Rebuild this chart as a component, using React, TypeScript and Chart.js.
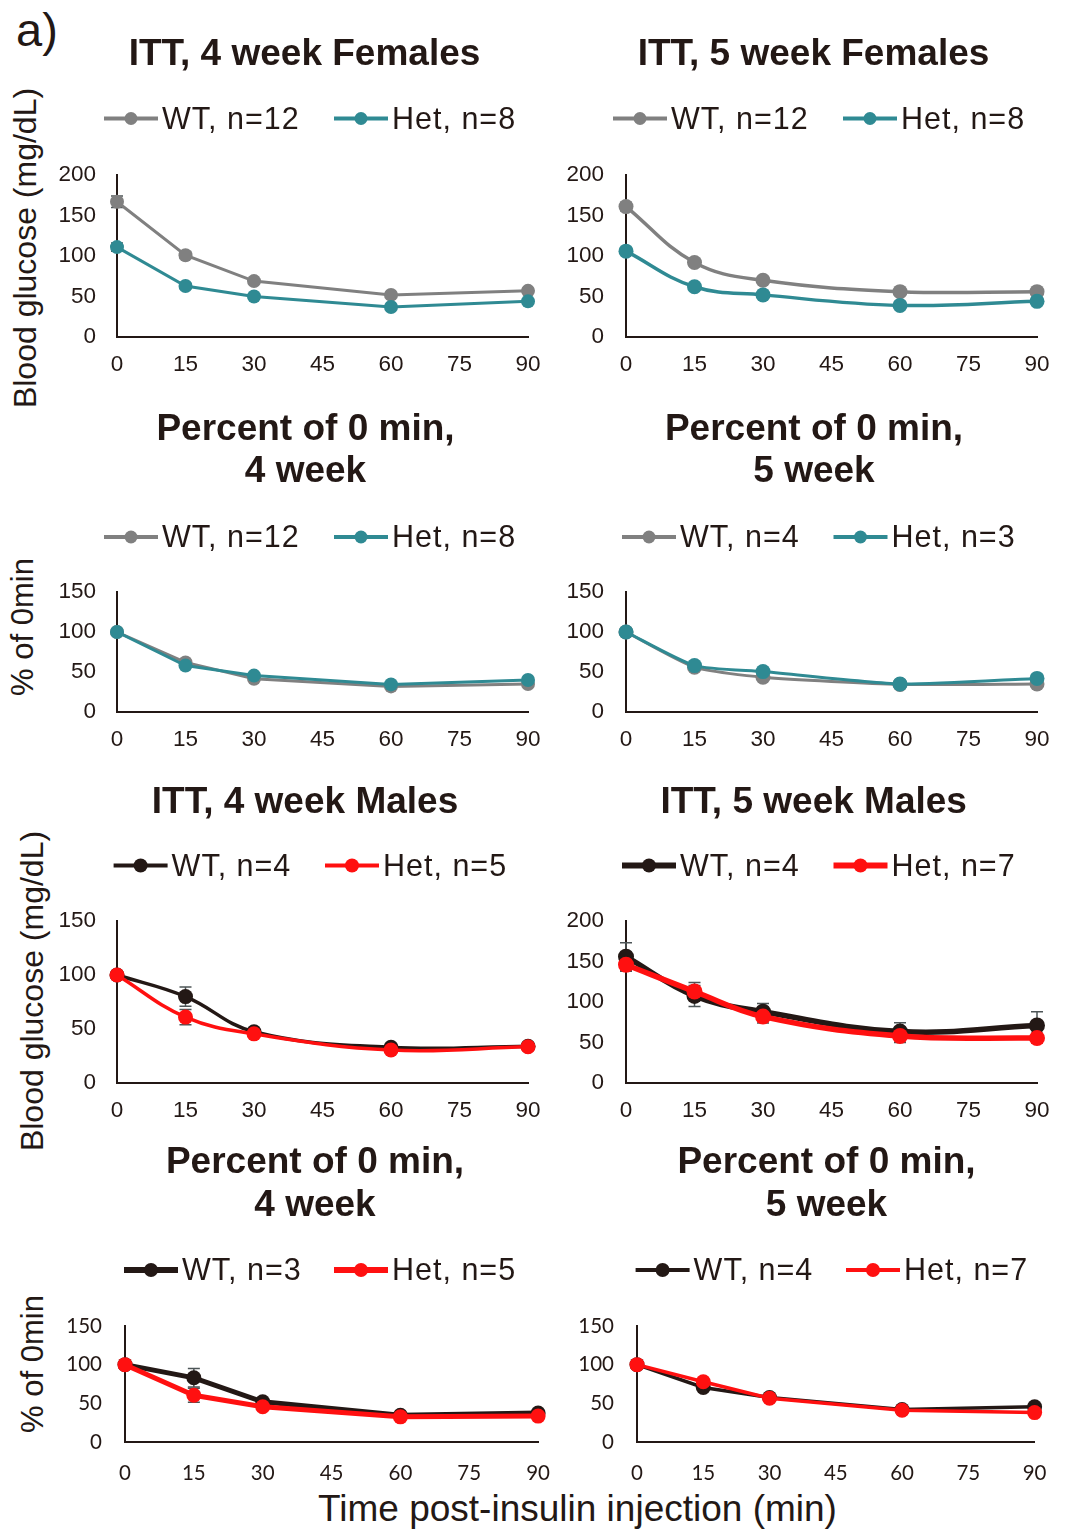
import React, { useEffect, useRef } from 'react';
import { Chart, registerables } from 'chart.js';

Chart.register(...registerables);

// ---- shared style ----
const INK = '#231815';
const SANS = '"Liberation Sans", Arial, Helvetica, sans-serif';
const ALT_SANS = 'Lato, "Liberation Sans", sans-serif';
const GRAY = '#808080';
const TEAL = '#2f8a93';
const BLACK = '#231815';
const RED = '#ff1010';
const ERR_COLOR = '#4d5557';

// ---- data ----
const minutes = [0, 15, 30, 60, 90];
const xTickValues = [0, 15, 30, 45, 60, 75, 90];
const yTicks200 = [0, 50, 100, 150, 200];
const yTicks150 = [0, 50, 100, 150];

// ITT, 4 week Females (mg/dL)
const f4WT = [167, 101, 69, 52, 57];
const f4Het = [111, 63, 50, 37, 44];
const f4WTErr = [7, 4, 3, 3, 3];
const f4HetErr = [5, 3, 3, 2, 3];

// ITT, 5 week Females (mg/dL)
const f5WT = [161, 92, 70, 56, 56];
const f5Het = [106, 62, 52, 39, 44];
const f5WTErr = [5, 4, 3, 3, 3];
const f5HetErr = [4, 3, 3, 2, 3];

// Percent of 0 min, females
const f4PctWT = [100, 62, 41.5, 32, 35];
const f4PctHet = [100, 58, 45.5, 34.5, 40];
const f5PctWT = [100, 56, 43.5, 34.5, 35];
const f5PctHet = [100, 58, 50.5, 35, 42];

// ITT, 4 week Males (mg/dL)
const m4WT = [100, 80, 47.5, 33, 34];
const m4Het = [100, 61, 45.5, 30.5, 33.5];
const m4WTErr = [0, 9, 3, 2, 2];
const m4HetErr = [0, 7, 2, 2, 2];

// ITT, 5 week Males (mg/dL)
const m5WT = [156, 107.5, 88, 63.5, 71];
const m5Het = [146, 113, 82, 58, 55.5];
const m5WTErr = [17, 13, 10, 11, 17];
const m5HetErr = [8, 11, 8, 8, 6];

// Percent of 0 min, males
const m4PctWT = [100, 83, 52, 34.5, 37.5];
const m4PctHet = [100, 60.5, 45.5, 32.5, 33.5];
const m4PctWTErr = [0, 12, 3, 2, 2];
const m4PctHetErr = [0, 9, 2, 2, 2];
const m5PctWT = [100, 70.5, 57.5, 42, 45.5];
const m5PctHet = [100, 78, 56.5, 41, 38];

// ---- panel layout ----
type Rect = { l: number; t: number; r: number; b: number };
type Panel = {
  key: string;
  titles: string[];
  titleX: number;
  titleBaselines: number[];
  legendBaseline: number;
  legendStarts: [number, number];
  legendLine: number;
  legendDot: number;
  labels: [string, string];
  colors: [string, string];
  wt: number[];
  het: number[];
  wtErr?: number[];
  hetErr?: number[];
  yTicks: number[];
  plot: Rect;
  lineWidth: number;
  pointRadius: number;
  tension: number;
  tickFont: { family: string; size: number };
  yPad: number;
  xPad: number;
};

const mainTick = { family: SANS, size: 22.5 };
const altTick = { family: ALT_SANS, size: 20.5 };

const panels: Panel[] = [
  {
    key: 'f4', titles: ['ITT, 4 week Females'], titleX: 304.5, titleBaselines: [65],
    legendBaseline: 128.5, legendStarts: [104, 334], legendLine: 4, legendDot: 6.5,
    labels: ['WT, n=12', 'Het, n=8'], colors: [GRAY, TEAL],
    wt: f4WT, het: f4Het, wtErr: f4WTErr, hetErr: f4HetErr, yTicks: yTicks200,
    plot: { l: 117.4, t: 175, r: 528, b: 337.3 }, lineWidth: 3, pointRadius: 7, tension: 0,
    tickFont: mainTick, yPad: 21, xPad: 14.5,
  },
  {
    key: 'f5', titles: ['ITT, 5 week Females'], titleX: 813.5, titleBaselines: [65],
    legendBaseline: 128.5, legendStarts: [613, 843], legendLine: 4, legendDot: 6.5,
    labels: ['WT, n=12', 'Het, n=8'], colors: [GRAY, TEAL],
    wt: f5WT, het: f5Het, wtErr: f5WTErr, hetErr: f5HetErr, yTicks: yTicks200,
    plot: { l: 626.2, t: 175, r: 1036.5, b: 337.3 }, lineWidth: 3.5, pointRadius: 7.5, tension: 0.4,
    tickFont: mainTick, yPad: 22, xPad: 14.5,
  },
  {
    key: 'f4p', titles: ['Percent of 0 min,', '4 week'], titleX: 305.5, titleBaselines: [440, 481.7],
    legendBaseline: 547, legendStarts: [104, 334], legendLine: 4, legendDot: 6.5,
    labels: ['WT, n=12', 'Het, n=8'], colors: [GRAY, TEAL],
    wt: f4PctWT, het: f4PctHet, yTicks: yTicks150,
    plot: { l: 117.4, t: 591.7, r: 528, b: 711.7 }, lineWidth: 3, pointRadius: 7, tension: 0,
    tickFont: mainTick, yPad: 21, xPad: 14.5,
  },
  {
    key: 'f5p', titles: ['Percent of 0 min,', '5 week'], titleX: 814, titleBaselines: [440, 481.7],
    legendBaseline: 547, legendStarts: [622, 833.5], legendLine: 4, legendDot: 6.5,
    labels: ['WT, n=4', 'Het, n=3'], colors: [GRAY, TEAL],
    wt: f5PctWT, het: f5PctHet, yTicks: yTicks150,
    plot: { l: 626.2, t: 591.7, r: 1036.5, b: 711.7 }, lineWidth: 3, pointRadius: 7.5, tension: 0.2,
    tickFont: mainTick, yPad: 22, xPad: 14.5,
  },
  {
    key: 'm4', titles: ['ITT, 4 week Males'], titleX: 305, titleBaselines: [812.5],
    legendBaseline: 875.5, legendStarts: [113.6, 325], legendLine: 4, legendDot: 7,
    labels: ['WT, n=4', 'Het, n=5'], colors: [BLACK, RED],
    wt: m4WT, het: m4Het, wtErr: m4WTErr, hetErr: m4HetErr, yTicks: yTicks150,
    plot: { l: 117.4, t: 921, r: 528, b: 1083.3 }, lineWidth: 3.5, pointRadius: 7.5, tension: 0.4,
    tickFont: mainTick, yPad: 21, xPad: 14,
  },
  {
    key: 'm5', titles: ['ITT, 5 week Males'], titleX: 813.7, titleBaselines: [812.5],
    legendBaseline: 875.5, legendStarts: [622, 833.5], legendLine: 6, legendDot: 7,
    labels: ['WT, n=4', 'Het, n=7'], colors: [BLACK, RED],
    wt: m5WT, het: m5Het, wtErr: m5WTErr, hetErr: m5HetErr, yTicks: yTicks200,
    plot: { l: 626.2, t: 921, r: 1036.5, b: 1083.3 }, lineWidth: 5.5, pointRadius: 8, tension: 0.4,
    tickFont: mainTick, yPad: 22, xPad: 14,
  },
  {
    key: 'm4p', titles: ['Percent of 0 min,', '4 week'], titleX: 315, titleBaselines: [1173.3, 1215.5],
    legendBaseline: 1280, legendStarts: [124, 334], legendLine: 6, legendDot: 7,
    labels: ['WT, n=3', 'Het, n=5'], colors: [BLACK, RED],
    wt: m4PctWT, het: m4PctHet, wtErr: m4PctWTErr, hetErr: m4PctHetErr, yTicks: yTicks150,
    plot: { l: 125, t: 1325.7, r: 539, b: 1441.7 }, lineWidth: 5, pointRadius: 7.5, tension: 0,
    tickFont: altTick, yPad: 23, xPad: 19,
  },
  {
    key: 'm5p', titles: ['Percent of 0 min,', '5 week'], titleX: 826.5, titleBaselines: [1173.3, 1215.5],
    legendBaseline: 1280, legendStarts: [635.6, 846], legendLine: 4, legendDot: 7,
    labels: ['WT, n=4', 'Het, n=7'], colors: [BLACK, RED],
    wt: m5PctWT, het: m5PctHet, yTicks: yTicks150,
    plot: { l: 636.6, t: 1326, r: 1050, b: 1441.7 }, lineWidth: 3.5, pointRadius: 7.5, tension: 0,
    tickFont: altTick, yPad: 23, xPad: 19.5,
  },
];

const PAGE_W = 1066;
const PAGE_H = 1529;
const Y_AXIS_W = 110;
const X_AXIS_H = 50;
const TITLE_FONT = `bold 37px ${SANS}`;
const LEGEND_FONT = `30.5px ${SANS}`;
const MARKER_LEN = 54;
const TEXT_GAP = 58;

function frameOf(p: Panel) {
  const l = Math.round(p.plot.l);
  const t = Math.round(p.plot.t);
  const r = Math.round(p.plot.r);
  const b = Math.round(p.plot.b);
  const x = l - Y_AXIS_W;
  const y = Math.round(Math.min(...p.titleBaselines) - 45);
  const right = Math.min(r + 30, PAGE_W);
  const bottom = b + X_AXIS_H;
  return { x, y, w: right - x, h: bottom - y, padTop: t - y, padRight: right - r };
}

// Title lines and the line-with-dot key above each plot
function headerPlugin(p: Panel, ox: number, oy: number) {
  return {
    id: 'panelHeader',
    afterDraw(chart: any) {
      const ctx: any = chart.ctx;
      ctx.save();
      ctx.fillStyle = INK;
      ctx.textAlign = 'center';
      ctx.textBaseline = 'alphabetic';
      ctx.font = TITLE_FONT;
      p.titles.forEach((text, i) => {
        ctx.fillText(text, p.titleX - ox, p.titleBaselines[i] - oy);
      });
      ctx.font = LEGEND_FONT;
      ctx.textAlign = 'left';
      if ('letterSpacing' in ctx) ctx.letterSpacing = '1px';
      const datasets = chart.data.datasets;
      p.legendStarts.forEach((sx, i) => {
        const ds = datasets[i];
        const x = sx - ox;
        const base = p.legendBaseline - oy;
        const y = base - 10;
        ctx.strokeStyle = ds.borderColor;
        ctx.lineWidth = p.legendLine;
        ctx.lineCap = 'butt';
        ctx.beginPath();
        ctx.moveTo(x, y);
        ctx.lineTo(x + MARKER_LEN, y);
        ctx.stroke();
        ctx.fillStyle = ds.borderColor;
        ctx.beginPath();
        ctx.arc(x + MARKER_LEN / 2, y, p.legendDot, 0, Math.PI * 2);
        ctx.fill();
        ctx.fillStyle = INK;
        ctx.fillText(ds.label, x + TEXT_GAP, base);
      });
      ctx.restore();
    },
  };
}

// Vertical SEM whiskers with caps, drawn beneath the series
function errorBarPlugin(errs: (number[] | undefined)[]) {
  return {
    id: 'errorBars',
    beforeDatasetsDraw(chart: any) {
      const ctx: CanvasRenderingContext2D = chart.ctx;
      const yScale = chart.scales.y;
      ctx.save();
      ctx.strokeStyle = ERR_COLOR;
      ctx.lineWidth = 1.5;
      errs.forEach((e, di) => {
        if (!e) return;
        const meta = chart.getDatasetMeta(di);
        const values = chart.data.datasets[di].data;
        meta.data.forEach((pt: any, i: number) => {
          const err = e[i];
          if (!err) return;
          const v = values[i].y;
          const y1 = yScale.getPixelForValue(v + err);
          const y2 = yScale.getPixelForValue(v - err);
          ctx.beginPath();
          ctx.moveTo(pt.x, y1);
          ctx.lineTo(pt.x, y2);
          ctx.moveTo(pt.x - 6, y1);
          ctx.lineTo(pt.x + 6, y1);
          ctx.moveTo(pt.x - 6, y2);
          ctx.lineTo(pt.x + 6, y2);
          ctx.stroke();
        });
      });
      ctx.restore();
    },
  };
}

function series(p: Panel, idx: 0 | 1) {
  const vals = idx === 0 ? p.wt : p.het;
  const color = p.colors[idx];
  return {
    label: p.labels[idx],
    data: minutes.map((m, i) => ({ x: m, y: vals[i] })),
    borderColor: color,
    backgroundColor: color,
    borderWidth: p.lineWidth,
    pointRadius: p.pointRadius,
    pointHoverRadius: p.pointRadius,
    pointBackgroundColor: color,
    pointBorderColor: color,
    pointBorderWidth: 0,
    tension: p.tension,
    clip: false as const,
    order: idx === 0 ? 1 : 0,
  };
}

function PanelChart({ p }: { p: Panel }) {
  const ref = useRef<HTMLCanvasElement>(null);
  const f = frameOf(p);

  useEffect(() => {
    const canvas = ref.current;
    if (!canvas) return;
    const yMax = p.yTicks[p.yTicks.length - 1];
    const chart = new Chart(canvas, {
      type: 'line',
      data: { datasets: [series(p, 0), series(p, 1)] as any },
      options: {
        animation: false,
        responsive: false,
        maintainAspectRatio: false,
        devicePixelRatio: 1,
        events: [],
        layout: { padding: { left: 0, top: f.padTop, right: f.padRight, bottom: 0 } },
        plugins: {
          legend: { display: false },
          title: { display: false },
          tooltip: { enabled: false },
        },
        scales: {
          x: {
            type: 'linear',
            min: 0,
            max: 90,
            afterBuildTicks: (s: any) => {
              s.ticks = xTickValues.map((value) => ({ value }));
            },
            afterFit: (s: any) => {
              s.height = X_AXIS_H;
            },
            grid: { display: false, drawTicks: false },
            border: { display: true, color: INK, width: 2 },
            ticks: { color: INK, font: p.tickFont, padding: p.xPad, maxRotation: 0, autoSkip: false },
          },
          y: {
            type: 'linear',
            min: 0,
            max: yMax,
            afterBuildTicks: (s: any) => {
              s.ticks = p.yTicks.map((value) => ({ value }));
            },
            afterFit: (s: any) => {
              s.width = Y_AXIS_W;
            },
            grid: { display: false, drawTicks: false },
            border: { display: true, color: INK, width: 2 },
            ticks: { color: INK, font: p.tickFont, padding: p.yPad },
          },
        },
      } as any,
      plugins: [errorBarPlugin([p.wtErr, p.hetErr]), headerPlugin(p, f.x, f.y)],
    });
    return () => chart.destroy();
  }, []);

  return (
    <canvas
      ref={ref}
      width={f.w}
      height={f.h}
      style={{ position: 'absolute', left: f.x, top: f.y, width: f.w, height: f.h }}
    />
  );
}

export default function App() {
  useEffect(() => {
    document.body.style.margin = '0';
    document.body.style.background = '#ffffff';
  }, []);

  return (
    <div
      style={{
        position: 'absolute',
        left: 0,
        top: 0,
        width: PAGE_W,
        height: PAGE_H,
        overflow: 'hidden',
        background: '#ffffff',
      }}
    >
      <svg
        width={PAGE_W}
        height={PAGE_H}
        style={{ position: 'absolute', left: 0, top: 0, pointerEvents: 'none' }}
        fontFamily={SANS}
        fill={INK}
      >
        <text x={16} y={46} fontSize={47}>a)</text>
        <text transform="translate(36 248) rotate(-90)" textAnchor="middle" fontSize={32}>
          Blood glucose (mg/dL)
        </text>
        <text transform="translate(33 627) rotate(-90)" textAnchor="middle" fontSize={31}>
          % of 0min
        </text>
        <text transform="translate(43 991) rotate(-90)" textAnchor="middle" fontSize={32}>
          Blood glucose (mg/dL)
        </text>
        <text transform="translate(43 1364) rotate(-90)" textAnchor="middle" fontSize={31}>
          % of 0min
        </text>
        <text x={577.5} y={1521} textAnchor="middle" fontSize={37}>
          Time post-insulin injection (min)
        </text>
      </svg>
      {panels.map((p) => (
        <PanelChart key={p.key} p={p} />
      ))}
    </div>
  );
}
